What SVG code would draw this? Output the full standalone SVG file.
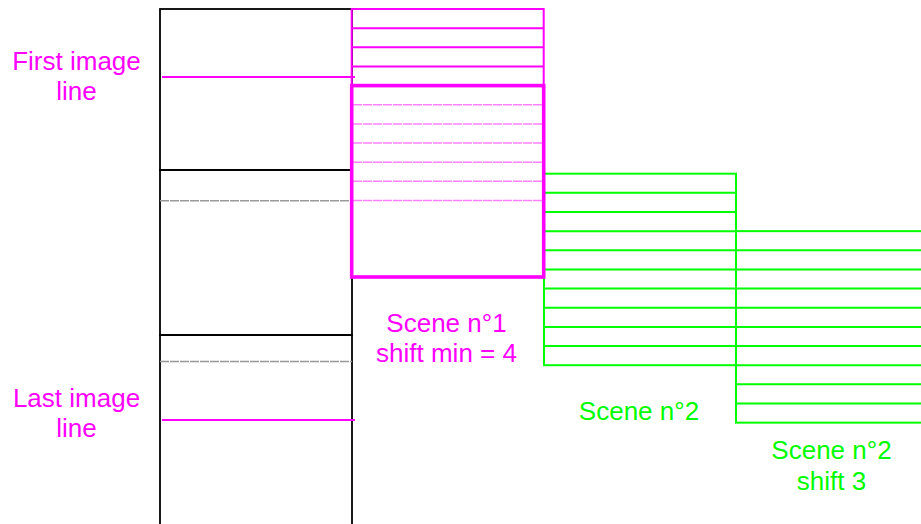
<svg xmlns="http://www.w3.org/2000/svg" width="921" height="524" viewBox="0 0 921 524">
<style>
.blk{fill:none;stroke:#000;stroke-width:1.8}
.mg{fill:none;stroke:#ff00ff;stroke-width:2}
.mgT{fill:none;stroke:#ff00ff;stroke-width:3.6}
.mgD{stroke:#ff80ff;stroke-width:1.5;stroke-dasharray:9 1}
.grD{stroke:#999;stroke-width:1.5;stroke-dasharray:9 1}
.gr{fill:none;stroke:#00ff00;stroke-width:2}
.lbl{font-family:"Liberation Sans",Arial,sans-serif;font-size:26px;text-anchor:middle}
.m{fill:#ff00ff}
.g{fill:#00ff00}
</style>
<rect width="921" height="524" fill="#fff"/>
<g id="image-column">
<rect class="blk" x="160" y="9" width="192" height="161"/>
<rect class="blk" x="160" y="170" width="192" height="165"/>
<rect class="blk" x="160" y="335" width="192" height="200"/>
<line class="grD" x1="160" y1="200.7" x2="352" y2="200.7"/>
<line class="grD" x1="160" y1="361.5" x2="352" y2="361.5"/>
</g>
<g id="scene2">
<rect class="gr" x="544" y="173.7" width="192" height="191.5"/>
<path class="gr" d="M544 192.85H736M544 212H736M544 231.15H736M544 250.3H736M544 269.45H736M544 288.6H736M544 307.75H736M544 326.9H736M544 346.05H736"/>
</g>
<g id="scene2-shift3">
<rect class="gr" x="736" y="231.15" width="192" height="191.5"/>
<path class="gr" d="M736 250.3H928M736 269.45H928M736 288.6H928M736 307.75H928M736 326.9H928M736 346.05H928M736 365.2H928M736 384.35H928M736 403.5H928"/>
</g>
<g id="scene1">
<rect class="mg" x="351.7" y="9" width="192" height="76.6"/>
<path class="mg" d="M351.7 28.15H543.7M351.7 47.3H543.7M351.7 66.45H543.7"/>
<path class="mgD" d="M353 104.75H542M353 123.9H542M353 143.05H542M353 162.2H542M353 181.35H542M353 200.5H542"/>
<rect class="mgT" x="351.7" y="85.6" width="192" height="191.4"/>
</g>
<g id="connectors">
<line class="mg" x1="162" y1="77" x2="355" y2="77"/>
<line class="mg" x1="162" y1="420" x2="355" y2="420"/>
</g>
<g id="labels">
<text class="lbl m" x="76.5" y="70">First image</text>
<text class="lbl m" x="76.5" y="99.5">line</text>
<text class="lbl m" x="76.5" y="407">Last image</text>
<text class="lbl m" x="76.5" y="436.5">line</text>
<text class="lbl m" x="446.5" y="332">Scene n°1</text>
<text class="lbl m" x="446.5" y="362">shift min = 4</text>
<text class="lbl g" x="639" y="419.5">Scene n°2</text>
<text class="lbl g" x="831.5" y="458.5">Scene n°2</text>
<text class="lbl g" x="831.5" y="489.5">shift 3</text>
</g>
</svg>
